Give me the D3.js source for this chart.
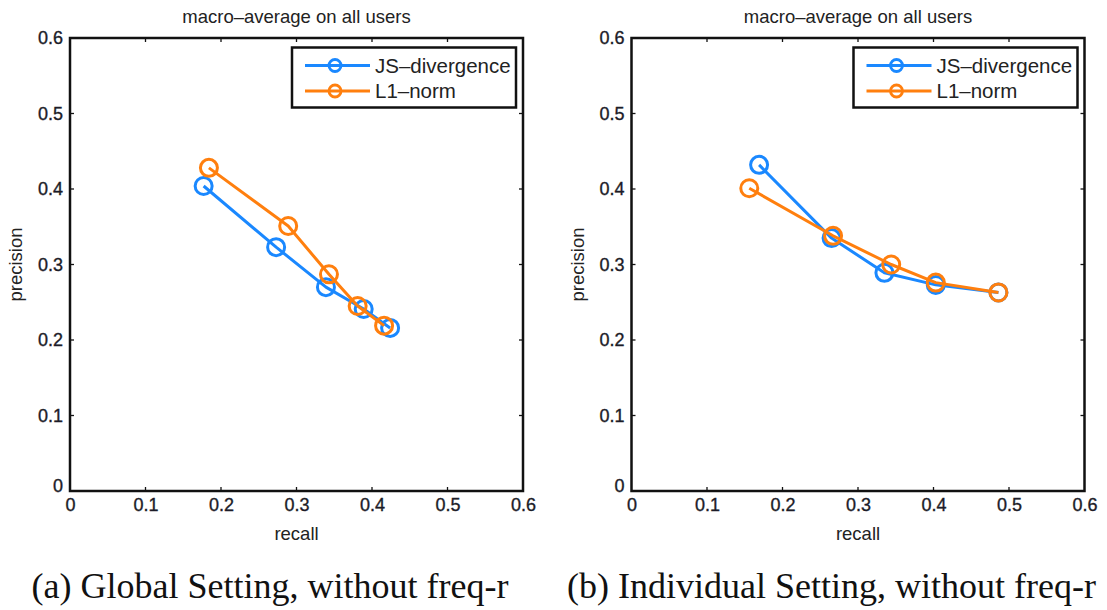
<!DOCTYPE html>
<html><head><meta charset="utf-8">
<script src="https://cdn.jsdelivr.net/npm/d3@7"></script>
<style>body{margin:0;background:#fff}svg{display:block}</style>
</head><body>
<script>
const seriesNames = ["JS\u2013divergence", "L1\u2013norm"];
const seriesColors = ["#1a88ff", "#ff7f0e"];
const tickValues = [0, 0.1, 0.2, 0.3, 0.4, 0.5, 0.6];
const tickLabels = ["0", "0.1", "0.2", "0.3", "0.4", "0.5", "0.6"];
const panelTitle = "macro\u2013average on all users";
const xLabel = "recall";
const yLabel = "precision";
const captions = ["(a) Global Setting, without freq-r", "(b) Individual Setting, without freq-r"];

// Panel (a)
const globalJSRecall    = [0.177, 0.273, 0.339, 0.389, 0.424];
const globalJSPrecision = [0.404, 0.323, 0.270, 0.241, 0.216];
const globalL1Recall    = [0.184, 0.289, 0.343, 0.381, 0.416];
const globalL1Precision = [0.428, 0.351, 0.287, 0.245, 0.219];
// Panel (b)
const indivJSRecall    = [0.169, 0.265, 0.335, 0.403, 0.486];
const indivJSPrecision = [0.432, 0.335, 0.289, 0.273, 0.263];
const indivL1Recall    = [0.156, 0.267, 0.344, 0.403, 0.486];
const indivL1Precision = [0.401, 0.338, 0.300, 0.276, 0.263];

(function () {
const panels = [
  {left: 70, caption: captions[0], series: [[globalJSRecall, globalJSPrecision], [globalL1Recall, globalL1Precision]]},
  {left: 631.5, caption: captions[1], series: [[indivJSRecall, indivJSPrecision], [indivL1Recall, indivL1Precision]]}
];

const W = 1107, H = 610;
const svg = d3.select("body").append("svg").attr("width", W).attr("height", H);
const plotTop = 38, plotBottom = 491, pw = 453;
const sans = "'Liberation Sans', Arial, Helvetica, sans-serif";
const ink = "#1c1c28";

panels.forEach(p => {
  const x = d3.scaleLinear().domain([0, 0.6]).range([p.left, p.left + pw]);
  const y = d3.scaleLinear().domain([0, 0.6]).range([plotBottom, plotTop]);
  const g = svg.append("g");

  const tickLen = 4;
  tickValues.slice(1, -1).forEach(v => {
    g.append("line").attr("x1", x(v)).attr("x2", x(v)).attr("y1", plotBottom).attr("y2", plotBottom - tickLen).attr("stroke", "#111").attr("stroke-width", 1.3);
    g.append("line").attr("x1", x(v)).attr("x2", x(v)).attr("y1", plotTop).attr("y2", plotTop + tickLen).attr("stroke", "#111").attr("stroke-width", 1.3);
    g.append("line").attr("x1", x.range()[0]).attr("x2", x.range()[0] + tickLen).attr("y1", y(v)).attr("y2", y(v)).attr("stroke", "#111").attr("stroke-width", 1.3);
    g.append("line").attr("x1", x.range()[1]).attr("x2", x.range()[1] - tickLen).attr("y1", y(v)).attr("y2", y(v)).attr("stroke", "#111").attr("stroke-width", 1.3);
  });

  const xAxis = d3.axisBottom(x).tickValues(tickValues).tickFormat((d, i) => tickLabels[i]).tickSize(0).tickPadding(7);
  const gx = g.append("g").attr("transform", `translate(0,${plotBottom})`).call(xAxis);
  gx.select(".domain").remove();
  gx.selectAll("text").attr("font-family", sans).attr("font-size", 18).attr("fill", ink)
    .attr("stroke", ink).attr("stroke-width", 0.35);

  const yAxis = d3.axisLeft(y).tickValues(tickValues).tickFormat((d, i) => tickLabels[i]).tickSize(0).tickPadding(7);
  const gy = g.append("g").attr("transform", `translate(${p.left},0)`).call(yAxis);
  gy.select(".domain").remove();
  gy.selectAll("text").attr("font-family", sans).attr("font-size", 18).attr("fill", ink)
    .attr("stroke", ink).attr("stroke-width", 0.35)
    .attr("dy", (d) => d === 0 ? "0.05em" : "0.32em");

  g.append("rect").attr("x", p.left).attr("y", plotTop).attr("width", pw).attr("height", plotBottom - plotTop)
    .attr("fill", "none").attr("stroke", "#111").attr("stroke-width", 2.5);

  g.append("text").attr("x", p.left + pw / 2).attr("y", 23).attr("text-anchor", "middle")
    .attr("font-family", sans).attr("font-size", 18.5).attr("fill", "#222").text(panelTitle);
  g.append("text").attr("x", p.left + pw / 2).attr("y", 540).attr("text-anchor", "middle")
    .attr("font-family", sans).attr("font-size", 18.5).attr("fill", "#222").text(xLabel);
  g.append("text").attr("transform", `translate(${p.left - 48},${(plotTop + plotBottom) / 2}) rotate(-90)`)
    .attr("text-anchor", "middle").attr("font-family", sans).attr("font-size", 18.5).attr("fill", "#222").text(yLabel);

  const line = d3.line().x(d => x(d[0])).y(d => y(d[1]));
  p.series.forEach((s, si) => {
    const pts = s[0].map((r, i) => [r, s[1][i]]);
    g.append("path").datum(pts).attr("d", line).attr("fill", "none")
      .attr("stroke", seriesColors[si]).attr("stroke-width", 3).attr("stroke-linejoin", "round");
    g.selectAll(null).data(pts).enter().append("circle")
      .attr("cx", d => x(d[0])).attr("cy", d => y(d[1])).attr("r", 8.5)
      .attr("fill", "none").attr("stroke", seriesColors[si]).attr("stroke-width", 3);
  });

  const lx = p.left + 222, ly = 47.5, lw = 224, lh = 60;
  g.append("rect").attr("x", lx).attr("y", ly).attr("width", lw).attr("height", lh)
    .attr("fill", "#fff").attr("stroke", "#111").attr("stroke-width", 2.5);
  seriesNames.forEach((n, i) => {
    const yy = ly + 18 + i * 25.5;
    g.append("line").attr("x1", lx + 13).attr("x2", lx + 78).attr("y1", yy).attr("y2", yy)
      .attr("stroke", seriesColors[i]).attr("stroke-width", 3);
    g.append("circle").attr("cx", lx + 43).attr("cy", yy).attr("r", 6)
      .attr("fill", "none").attr("stroke", seriesColors[i]).attr("stroke-width", 2.8);
    g.append("text").attr("x", lx + 83).attr("y", yy + 7).attr("font-family", sans)
      .attr("font-size", 20.5).attr("fill", "#222").text(n);
  });

  g.append("text").attr("x", p.left + pw / 2 - 26.5).attr("y", 598).attr("text-anchor", "middle")
    .attr("font-family", "'Liberation Serif', 'Times New Roman', serif").attr("font-size", 36)
    .attr("fill", "#111").text(p.caption);
});
})();
</script>
</body></html>
